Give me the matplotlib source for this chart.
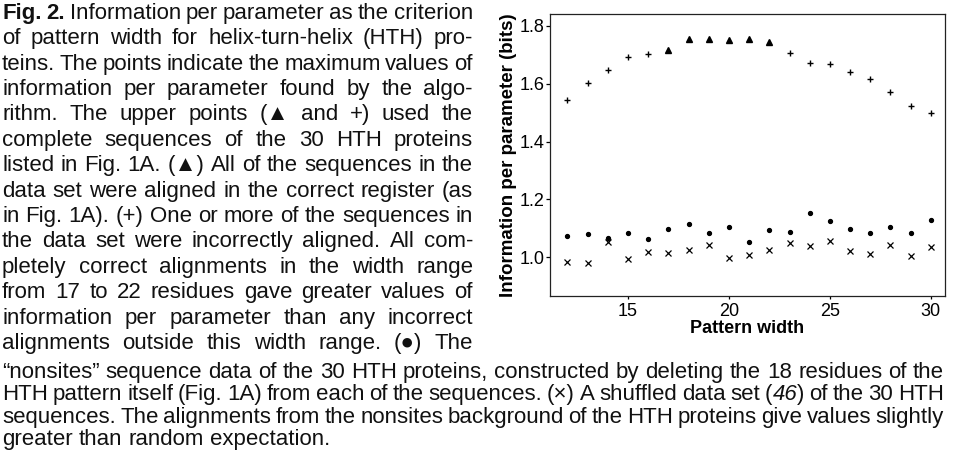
import matplotlib
matplotlib.use("Agg")
import matplotlib.pyplot as plt
from matplotlib.transforms import IdentityTransform

# data
widths = [12, 13, 14, 15, 16, 17, 18, 19, 20, 21, 22, 23, 24, 25, 26, 27, 28, 29, 30]
upper_vals = [1.544, 1.604, 1.646, 1.692, 1.703, 1.717, 1.754, 1.754, 1.751, 1.754,
              1.744, 1.706, 1.673, 1.669, 1.639, 1.615, 1.573, 1.524, 1.499]
correct_widths = [17, 18, 19, 20, 21, 22]  # triangles, the rest are "+"
nonsites_vals = [1.073, 1.080, 1.065, 1.085, 1.063, 1.098, 1.115, 1.083, 1.106, 1.053,
                 1.093, 1.088, 1.153, 1.126, 1.099, 1.085, 1.103, 1.085, 1.128]
shuffled_vals = [0.984, 0.979, 1.051, 0.993, 1.017, 1.015, 1.024, 1.042, 0.997, 1.008,
                 1.024, 1.048, 1.038, 1.055, 1.020, 1.010, 1.044, 1.006, 1.034]

x_ticks = [15, 20, 25, 30]
y_ticks = [1.0, 1.2, 1.4, 1.6, 1.8]

# caption lines, bold/italic parts marked as segments
side_lines = [
    [("Fig. 2.", "bold"), (" Information per parameter as the criterion", "normal")],
    "of pattern width for helix-turn-helix (HTH) pro-",
    "teins. The points indicate the maximum values of",
    "information per parameter found by the algo-",
    "rithm. The upper points (\u25B2 and +) used the",
    "complete sequences of the 30 HTH proteins",
    "listed in Fig. 1A. (\u25B2) All of the sequences in the",
    "data set were aligned in the correct register (as",
    "in Fig. 1A). (+) One or more of the sequences in",
    "the data set were incorrectly aligned. All com-",
    "pletely correct alignments in the width range",
    "from 17 to 22 residues gave greater values of",
    "information per parameter than any incorrect",
    "alignments outside this width range. (\u25CF) The",
]
bottom_lines = [
    "\u201cnonsites\u201d sequence data of the 30 HTH proteins, constructed by deleting the 18 residues of the",
    [("HTH pattern itself (Fig. 1A) from each of the sequences. (\u00D7) A shuffled data set (", "normal"),
     ("46", "italic"), (") of the 30 HTH", "normal")],
    "sequences. The alignments from the nonsites background of the HTH proteins give values slightly",
    "greater than random expectation.",
]

FONT = ["Liberation Sans", "DejaVu Sans"]
W, H = 960, 457

fig = plt.figure(figsize=(9.6, 4.57), dpi=100)
renderer = fig.canvas.get_renderer()


def split_words(line):
    # turn a line into words, each word a list of (text, style) segments
    if isinstance(line, str):
        line = [(line, "normal")]
    words = [[]]
    for text, style in line:
        parts = text.split(" ")
        for i, p in enumerate(parts):
            if i > 0:
                words.append([])
            if p:
                words[-1].append((p, style))
    return [w for w in words if w]


def make_text(s, style, size):
    kw = dict(fontsize=size, family=FONT, transform=IdentityTransform(),
              va="baseline", ha="left", color="#111111")
    if style == "bold":
        kw["fontweight"] = "bold"
    elif style == "italic":
        kw["fontstyle"] = "italic"
    return fig.text(0, 0, s, **kw)


def draw_line(line, x0, x1, yc, size, justify=True):
    words = split_words(line)
    arts = []
    total = 0.0
    for w in words:
        segs = []
        for s, st in w:
            t = make_text(s, st, size)
            wd = t.get_window_extent(renderer).width
            segs.append((t, wd))
            total += wd
        arts.append(segs)
    space = size * 100 / 72 * 0.278
    gap = (x1 - x0 - total) / (len(arts) - 1) if justify and len(arts) > 1 else space
    base = H - yc - size * 100 / 72 * 0.26
    x = x0
    for segs in arts:
        for t, wd in segs:
            t.set_position((x, base))
            x += wd
        x += gap


for i, line in enumerate(side_lines):
    draw_line(line, 2, 473, 13 + 25.4 * i, 16)
for i, line in enumerate(bottom_lines):
    draw_line(line, 2, 944, 372 + 22.4 * i, 16, justify=(i < len(bottom_lines) - 1))

# the plot
ax = fig.add_axes([550 / W, 1 - 296 / H, 395 / W, 282 / H])

up_plus_x = [w for w in widths if w not in correct_widths]
up_plus_y = [v for w, v in zip(widths, upper_vals) if w not in correct_widths]
up_tri_x = [w for w in widths if w in correct_widths]
up_tri_y = [v for w, v in zip(widths, upper_vals) if w in correct_widths]

ax.plot(up_plus_x, up_plus_y, linestyle="none", marker="+", ms=4.8, mew=1.0, color="black")
ax.plot(up_tri_x, up_tri_y, linestyle="none", marker="^", ms=4.3, color="black")
ax.plot(widths, nonsites_vals, linestyle="none", marker="o", ms=2.8, color="black")
ax.plot(widths, shuffled_vals, linestyle="none", marker="x", ms=3.8, mew=0.9, color="black")

ax.set_xlim(11.14, 30.7)
ax.set_ylim(0.866, 1.841)
ax.set_xticks(x_ticks)
ax.set_xticklabels([str(v) for v in x_ticks])
ax.set_yticks(y_ticks)
ax.set_yticklabels([f"{v:.1f}" for v in y_ticks])

for sp in ax.spines.values():
    sp.set_linewidth(0.9)
    sp.set_color("#222222")
ax.tick_params(axis="y", direction="out", length=3, width=0.9, pad=1, labelsize=13)
ax.tick_params(axis="x", direction="out", length=2, width=0.9, pad=3, labelsize=13)
for lab in ax.get_xticklabels() + ax.get_yticklabels():
    lab.set_family(FONT)

ax.set_xlabel("Pattern width", fontsize=13, fontweight="bold", family=FONT, labelpad=0)
ax.set_ylabel("Information per parameter (bits)", fontsize=13.5, fontweight="bold",
              family=FONT, labelpad=2)

fig.savefig("out.png", dpi=100)
